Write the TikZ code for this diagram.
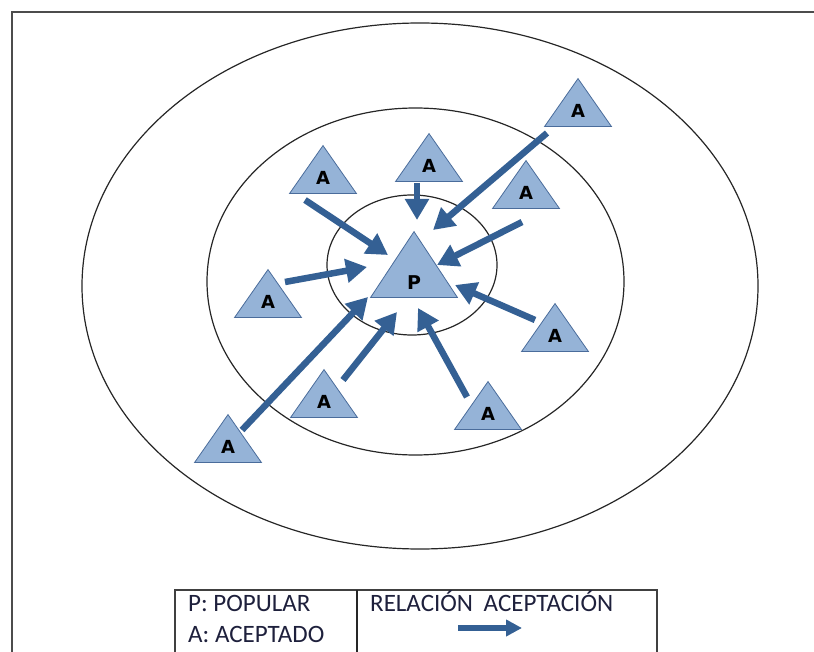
\documentclass[tikz,border=0pt]{standalone}
\usepackage{fontspec}
\setmainfont{Carlito}
\newfontfamily\trifont{DejaVu Sans}
\usetikzlibrary{arrows.meta,backgrounds,shapes.geometric}

\definecolor{trifill}{RGB}{149,179,215}
\definecolor{triline}{RGB}{74,108,155}
\definecolor{acblue}{RGB}{52,96,148}
\definecolor{legtext}{RGB}{30,32,60}

\begin{document}
\begin{tikzpicture}[x=1pt,y=-1pt,
    member/.style={isosceles triangle,isosceles triangle stretches,shape border rotate=90,
        draw=triline,fill=trifill,line width=0.8pt,inner sep=0pt,
        minimum width=67pt,minimum height=48pt,anchor=south,
        font=\trifont\bfseries\fontsize{18}{18}\selectfont,text=black},
    popular/.style={member,minimum width=87pt,minimum height=66pt,
        font=\trifont\bfseries\fontsize{19}{19}\selectfont},
    accept/.style={draw=acblue,line width=6.5pt,-{Triangle[length=21pt,width=23pt]}},
    ring/.style={draw=black!85,line width=1.2pt},
    legend/.style={anchor=base west,inner sep=0pt,text=legtext,font=\fontsize{25}{25}\selectfont}]

    \clip (0,0) rectangle (814,652);
    \useasboundingbox (0,0) rectangle (814,652);

    % frame
    \draw[line width=2pt,draw=black!70] (12,12) rectangle (840,690);

    % popular and accepted ones
    \node[popular] (p) at (414,298) {\raisebox{-12pt}[0pt][0pt]{P}};
    \node[member] (a1) at (323,194) {A};
    \node[member] (a2) at (429,182) {A};
    \node[member] (a3) at (526,209) {A};
    \node[member] (a4) at (578,127) {A};
    \node[member] (a5) at (268,318) {A};
    \node[member] (a6) at (555,352) {A};
    \node[member] (a7) at (324,418) {A};
    \node[member] (a8) at (488,430) {A};
    \node[member] (a9) at (228,463) {A};

    \begin{scope}[on background layer]
	\draw[ring] (420,286) ellipse [x radius=338,y radius=263];
	\draw[ring] (415.5,281.5) ellipse [x radius=208.5,y radius=173.5];
	\draw[ring] (412,265) ellipse [x radius=85,y radius=70];

	\draw[accept] ([shift={(-18,6)}]a1.south) -- ([shift={(-26,-43)}]p.south);
	\draw[accept] ([shift={(-12,1)}]a2.south) -- ([shift={(3,-78)}]p.south);
	\draw[accept] ([shift={(-4,13)}]a3.south) -- ([shift={(23,-33)}]p.south);
	\draw[accept] ([shift={(-31,6)}]a4.south) -- ([shift={(19,-68)}]p.south);
	\draw[accept] ([shift={(17,-36)}]a5.south) -- ([shift={(-47,-31)}]p.south);
	\draw[accept] ([shift={(-20,-32)}]a6.south) -- ([shift={(41,-13)}]p.south);
	\draw[accept] ([shift={(19,-38)}]a7.south) -- ([shift={(-17,14)}]p.south);
	\draw[accept] ([shift={(-21,-33)}]a8.south) -- ([shift={(4,10)}]p.south);
	\draw[accept] ([shift={(14,-33)}]a9.south) -- ([shift={(-46,-1)}]p.south);
    \end{scope}

    % legend
    \draw[line width=1.5pt,draw=black!75] (175,590) rectangle (657,690);
    \draw[line width=1.5pt,draw=black!85] (357,590) -- (357,690);
    \node[legend] (keyp) at (188,611) {P: POPULAR};
    \node[legend] (keya) at (188,642) {A: ACEPTADO};
    \node[legend] (keyrel) at (370,611) {RELACIÓN\hspace{0.2em} ACEPTACIÓN};
    \coordinate (keyfrom) at (458,628);
    \coordinate (keyto) at (522,628);
    \draw[accept,-{Triangle[length=16pt,width=16pt]}] (keyfrom) -- (keyto);
\end{tikzpicture}
\end{document}
